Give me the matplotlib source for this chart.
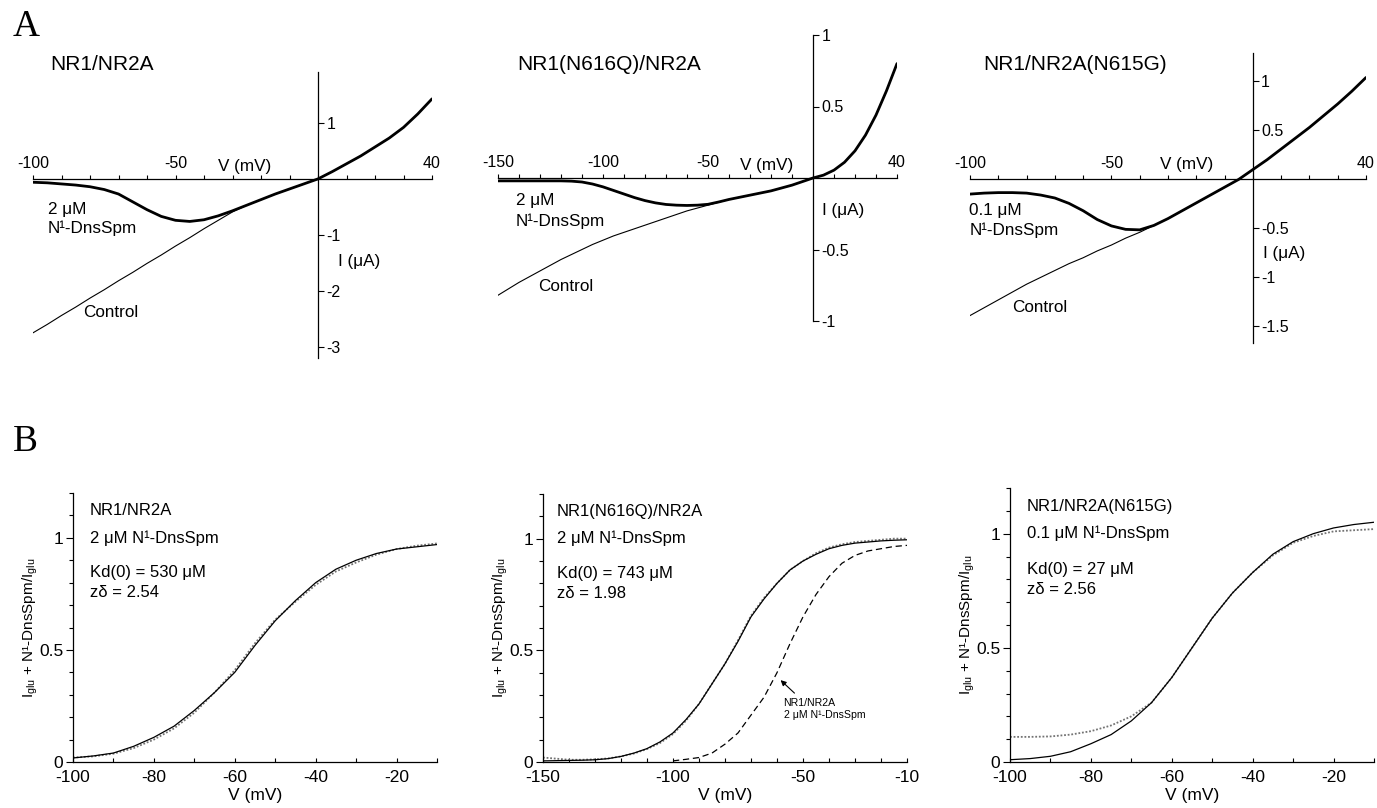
import numpy as np
import matplotlib
matplotlib.use('Agg')
import matplotlib.pyplot as plt
from matplotlib.ticker import FormatStrFormatter, MultipleLocator

plt.rcParams['font.family'] = ['Liberation Sans', 'DejaVu Sans']
plt.rcParams['mathtext.fontset'] = 'custom'
plt.rcParams['mathtext.rm'] = 'Liberation Sans'
plt.rcParams['axes.unicode_minus'] = False

# ---------- Panel A: I-V curves (V in mV, I in uA)
a1_v = np.arange(-100, 41, 5)
a1_ctrl = [-2.75, -2.60, -2.44, -2.29, -2.13, -1.98, -1.82, -1.67, -1.51, -1.36, -1.20,
           -1.05, -0.89, -0.74, -0.59, -0.47, -0.37, -0.27, -0.18, -0.09, 0.0,
           0.13, 0.27, 0.41, 0.57, 0.73, 0.92, 1.16, 1.43]
a1_drug = [-0.06, -0.07, -0.09, -0.11, -0.14, -0.19, -0.27, -0.41, -0.55, -0.67, -0.74,
           -0.76, -0.73, -0.66, -0.57, -0.47, -0.37, -0.27, -0.18, -0.09, 0.0,
           0.13, 0.27, 0.41, 0.57, 0.73, 0.92, 1.16, 1.43]

a2_v = np.arange(-150, 41, 5)
a2_ctrl = [-0.82, -0.775, -0.73, -0.69, -0.65, -0.61, -0.57, -0.535, -0.50, -0.465,
           -0.435, -0.405, -0.38, -0.355, -0.33, -0.305, -0.28, -0.255, -0.23, -0.21,
           -0.19, -0.17, -0.15, -0.135, -0.12, -0.105, -0.09, -0.07, -0.05, -0.025,
           0.0, 0.02, 0.055, 0.11, 0.19, 0.30, 0.44, 0.61, 0.80]
a2_drug = [-0.02, -0.02, -0.02, -0.02, -0.02, -0.02, -0.02, -0.022, -0.028, -0.042,
           -0.062, -0.087, -0.112, -0.137, -0.158, -0.174, -0.185, -0.19, -0.192, -0.19,
           -0.184, -0.168, -0.15, -0.135, -0.12, -0.105, -0.09, -0.07, -0.05, -0.025,
           0.0, 0.02, 0.055, 0.11, 0.19, 0.30, 0.44, 0.61, 0.80]

a3_v = np.arange(-100, 41, 5)
a3_ctrl = [-1.39, -1.31, -1.23, -1.15, -1.07, -1.00, -0.93, -0.86, -0.80, -0.73, -0.67,
           -0.60, -0.54, -0.47, -0.40, -0.32, -0.24, -0.16, -0.08, 0.0, 0.10,
           0.20, 0.31, 0.42, 0.53, 0.65, 0.77, 0.90, 1.04]
a3_drug = [-0.15, -0.14, -0.135, -0.135, -0.14, -0.16, -0.19, -0.245, -0.32, -0.41, -0.475,
           -0.51, -0.515, -0.47, -0.40, -0.32, -0.24, -0.16, -0.08, 0.0, 0.10,
           0.20, 0.31, 0.42, 0.53, 0.65, 0.77, 0.90, 1.04]

# ---------- Panel B: fractional current (data + Woodhull fit)
b1_v = np.arange(-100, -9, 5)
b1_fit = [0.018, 0.027, 0.04, 0.07, 0.11, 0.16, 0.23, 0.31, 0.40, 0.52, 0.63,
          0.72, 0.80, 0.86, 0.90, 0.93, 0.95, 0.96, 0.97]
b1_data = [0.02, 0.025, 0.037, 0.062, 0.10, 0.15, 0.22, 0.31, 0.41, 0.53, 0.635,
           0.715, 0.79, 0.85, 0.89, 0.925, 0.95, 0.965, 0.975]

b2_v = np.arange(-150, -9, 5)
b2_fit = [0.005, 0.006, 0.007, 0.008, 0.01, 0.015, 0.025, 0.04, 0.06, 0.09, 0.13,
          0.19, 0.26, 0.35, 0.44, 0.54, 0.65, 0.73, 0.80, 0.86, 0.90, 0.93, 0.955,
          0.97, 0.98, 0.985, 0.99, 0.993, 0.995]
b2_data = [0.02, 0.015, 0.01, 0.01, 0.012, 0.016, 0.025, 0.038, 0.058, 0.085, 0.125,
           0.185, 0.26, 0.35, 0.44, 0.545, 0.655, 0.735, 0.80, 0.86, 0.90, 0.935,
           0.96, 0.975, 0.985, 0.99, 0.995, 1.0, 1.0]
b2_ref_v = np.arange(-100, -9, 5)
b2_ref = [0.005, 0.012, 0.02, 0.04, 0.08, 0.13, 0.21, 0.29, 0.40, 0.53, 0.65,
          0.75, 0.83, 0.89, 0.925, 0.945, 0.955, 0.965, 0.97]

b3_v = np.arange(-100, -9, 5)
b3_fit = [0.01, 0.015, 0.025, 0.045, 0.08, 0.12, 0.18, 0.26, 0.37, 0.50, 0.63,
          0.74, 0.83, 0.91, 0.965, 1.0, 1.025, 1.04, 1.05]
b3_data = [0.11, 0.11, 0.112, 0.12, 0.135, 0.16, 0.20, 0.26, 0.37, 0.50, 0.63,
           0.74, 0.83, 0.905, 0.96, 0.99, 1.01, 1.015, 1.02]

constructs = ['NR1/NR2A', 'NR1(N616Q)/NR2A', 'NR1/NR2A(N615G)']
concs = ['2 μM', '2 μM', '0.1 μM']
kd_text = ['Kd(0) = 530 μM', 'Kd(0) = 743 μM', 'Kd(0) = 27 μM']
zd_text = ['zδ = 2.54', 'zδ = 1.98', 'zδ = 2.56']

W, H = 1377, 808
fig = plt.figure(figsize=(W / 100, H / 100), dpi=100)


def px_rect(left, top, right, bottom):
    return [left / W, 1 - bottom / H, (right - left) / W, (bottom - top) / H]


def iv_axes(rect, xlim, ylim, xmajor, yticks):
    ax = fig.add_axes(rect)
    ax.set_xlim(xlim)
    ax.set_ylim(ylim)
    ax.patch.set_visible(False)
    ax.spines['left'].set_visible(False)
    ax.spines['bottom'].set_visible(False)
    ax.spines['top'].set_position(('data', 0))
    ax.spines['right'].set_position(('data', 0))
    ax.xaxis.tick_top()
    ax.yaxis.tick_right()
    ax.set_xticks(xmajor)
    ax.xaxis.set_minor_locator(MultipleLocator(10))
    ax.set_yticks(yticks)
    ax.xaxis.set_major_formatter(FormatStrFormatter('%g'))
    ax.yaxis.set_major_formatter(FormatStrFormatter('%g'))
    ax.tick_params(axis='x', which='both', direction='out', length=3, width=0.8,
                   labelsize=11.5, pad=3)
    ax.tick_params(axis='y', which='both', direction='out', length=4, width=0.8,
                   labelsize=11.5, pad=2)
    for s in ['top', 'right']:
        ax.spines[s].set_linewidth(0.9)
    return ax


def draw_iv(ax, v, ctrl, drug):
    ax.plot(v, ctrl, color='black', lw=0.8, solid_joinstyle='round')
    ax.plot(v, drug, color='black', lw=2.0, solid_joinstyle='round', solid_capstyle='round')


# A1
ax = iv_axes(px_rect(33, 72, 432, 358), (-100, 40), (-3.2, 1.91), [-100, -50, 40], [1, -1, -2, -3])
draw_iv(ax, a1_v, a1_ctrl, a1_drug)
ax.text(-94.7, -0.54, concs[0], fontsize=12.3, va='center')
ax.text(-94.7, -0.89, 'N¹-DnsSpm', fontsize=12.3, va='center')
ax.text(-82.5, -2.39, 'Control', fontsize=12.3, va='center')
ax.text(-35, 0.23, 'V (mV)', fontsize=12.3, va='center')
ax.text(7, -1.48, 'I (μA)', fontsize=12.3, va='center')

# A2
ax = iv_axes(px_rect(498, 35, 897, 321), (-150, 40), (-1, 1), [-150, -100, -50, 40], [1, 0.5, -0.5, -1])
draw_iv(ax, a2_v, a2_ctrl, a2_drug)
ax.text(-141.4, -0.16, concs[1], fontsize=12.3, va='center')
ax.text(-141.4, -0.30, 'N¹-DnsSpm', fontsize=12.3, va='center')
ax.text(-131, -0.76, 'Control', fontsize=12.3, va='center')
ax.text(-34.8, 0.09, 'V (mV)', fontsize=12.3, va='center')
ax.text(4.3, -0.23, 'I (μA)', fontsize=12.3, va='center')

# A3
ax = iv_axes(px_rect(970, 53, 1366, 343), (-100, 40), (-1.67, 1.29), [-100, -50, 40], [1, 0.5, -0.5, -1, -1.5])
draw_iv(ax, a3_v, a3_ctrl, a3_drug)
ax.text(-100.3, -0.32, concs[2], fontsize=12.3, va='center')
ax.text(-100.3, -0.52, 'N¹-DnsSpm', fontsize=12.3, va='center')
ax.text(-85, -1.31, 'Control', fontsize=12.3, va='center')
ax.text(-33, 0.15, 'V (mV)', fontsize=12.3, va='center')
ax.text(3.5, -0.76, 'I (μA)', fontsize=12.3, va='center')

# panel A titles
for xpx, name in zip([50, 517, 983], constructs):
    fig.text(xpx / W, 1 - 65 / H, name, fontsize=15, va='center', ha='left')


def frac_axes(rect, xlim, xmajor):
    ax = fig.add_axes(rect)
    ax.set_xlim(xlim)
    ax.set_ylim(0, 1.2)
    ax.spines['top'].set_visible(False)
    ax.spines['right'].set_visible(False)
    for s in ['left', 'bottom']:
        ax.spines[s].set_linewidth(0.9)
    ax.set_xticks(xmajor)
    ax.xaxis.set_minor_locator(MultipleLocator(10))
    ax.set_yticks([0, 0.5, 1])
    ax.yaxis.set_minor_locator(MultipleLocator(0.1))
    ax.xaxis.set_major_formatter(FormatStrFormatter('%g'))
    ax.yaxis.set_major_formatter(FormatStrFormatter('%g'))
    ax.tick_params(axis='x', which='both', direction='in', length=3, width=0.8,
                   labelsize=12.5, pad=6)
    ax.tick_params(axis='y', which='major', direction='out', length=5, width=0.8,
                   labelsize=12.5, pad=2)
    ax.tick_params(axis='y', which='minor', direction='out', length=3, width=0.8)
    ax.set_xlabel('V (mV)', fontsize=12.5, labelpad=2)
    ax.set_ylabel(r'I$_{\mathrm{glu}}$ + N¹-DnsSpm/I$_{\mathrm{glu}}$', fontsize=11)
    ax.yaxis.set_label_coords(-0.09, 0.5)
    return ax


b_rows = [1.12, 1.0, 0.845, 0.755]

# B1
ax = frac_axes(px_rect(73, 493, 437, 762), (-100, -10), [-100, -80, -60, -40, -20])
ax.plot(b1_v, b1_data, color='0.45', lw=1.3, ls=(0, (1, 1)))
ax.plot(b1_v, b1_fit, color='black', lw=0.9)
for yv, t in zip(b_rows, [constructs[0], concs[0] + ' N¹-DnsSpm', kd_text[0], zd_text[0]]):
    ax.text(-95.8, yv, t, fontsize=12, va='center')

# B2
ax = frac_axes(px_rect(543, 494, 907, 762), (-150, -10), [-150, -100, -50, -10])
ax.plot(b2_v, b2_data, color='0.45', lw=1.3, ls=(0, (1, 1)))
ax.plot(b2_v, b2_fit, color='black', lw=0.9)
ax.plot(b2_ref_v, b2_ref, color='black', lw=0.9, ls=(0, (5, 3)))
for yv, t in zip(b_rows, [constructs[1], concs[1] + ' N¹-DnsSpm', kd_text[1], zd_text[1]]):
    ax.text(-144.6, yv, t, fontsize=12, va='center')
ax.annotate('', xy=(-59.4, 0.375), xytext=(-52.5, 0.30),
            arrowprops=dict(arrowstyle='-|>', color='black', lw=0.8, mutation_scale=8))
ax.text(-57.5, 0.265, 'NR1/NR2A', fontsize=7.6, va='center')
ax.text(-57.5, 0.21, '2 μM N¹-DnsSpm', fontsize=7.6, va='center')

# B3
ax = frac_axes(px_rect(1010, 488, 1374, 762), (-100, -10), [-100, -80, -60, -40, -20])
ax.plot(b3_v, b3_data, color='0.45', lw=1.3, ls=(0, (1, 1)))
ax.plot(b3_v, b3_fit, color='black', lw=0.9)
for yv, t in zip(b_rows, [constructs[2], concs[2] + ' N¹-DnsSpm', kd_text[2], zd_text[2]]):
    ax.text(-95.8, yv, t, fontsize=12, va='center')

# panel letters
fig.text(13 / W, 1 - 27 / H, 'A', fontsize=27, family='Liberation Serif', va='center')
fig.text(13 / W, 1 - 442 / H, 'B', fontsize=27, family='Liberation Serif', va='center')

fig.savefig('out.png', dpi=100)
